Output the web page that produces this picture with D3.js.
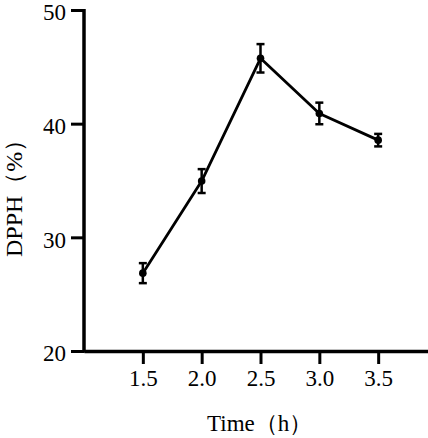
<!DOCTYPE html>
<html>
<head>
<meta charset="utf-8">
<script src="https://cdn.jsdelivr.net/npm/d3@7"></script>
<style>
  body { margin: 0; background: #fff; }
  text { font-family: "Liberation Serif", "Times New Roman", serif; fill: #000; }
</style>
</head>
<body>
<div id="chart-area"></div>
<script>

// SVG Size
var width = 428,
    height = 438;

// Data
var times = [1.5, 2.0, 2.5, 3.0, 3.5];
var dpph = [26.85, 34.95, 45.75, 40.9, 38.55];
var errors = [0.88, 1.05, 1.25, 0.95, 0.55];
var yTicks = [20, 30, 40, 50];

var data = times.map(function(t, i) {
  return { time: t, value: dpph[i], err: errors[i] };
});

var svg = d3.select("#chart-area").append("svg")
    .attr("width", width)
    .attr("height", height);

// Scales
var x = d3.scaleLinear()
    .domain([1, 4])
    .range([84, 437]);

var y = d3.scaleLinear()
    .domain([20, 50])
    .range([351, 10]);

// Axes
var xAxis = d3.axisBottom(x)
    .tickValues(times)
    .tickFormat(d3.format(".1f"))
    .tickSize(13)
    .tickPadding(6)
    .tickSizeOuter(0);

var yAxis = d3.axisLeft(y)
    .tickValues(yTicks)
    .tickSize(13)
    .tickPadding(5)
    .tickSizeOuter(0);

var gx = svg.append("g")
    .attr("class", "x axis")
    .attr("transform", "translate(0," + y(20) + ")")
    .call(xAxis);

var gy = svg.append("g")
    .attr("class", "y axis")
    .attr("transform", "translate(" + x(1) + ",0)")
    .call(yAxis);

svg.selectAll(".axis")
    .attr("font-family", "Liberation Serif")
    .attr("font-size", 23);
svg.selectAll(".axis path.domain")
    .attr("stroke", "#000")
    .attr("stroke-width", 3.5);
svg.selectAll(".axis .tick line")
    .attr("stroke", "#000")
    .attr("stroke-width", 3);
svg.selectAll(".axis .tick text")
    .style("font-size", "23px")
    .style("font-family", "'Liberation Serif', serif");

// nudge y labels down a touch so "50" stays inside the page
gy.selectAll(".tick text").attr("dy", "0.43em");

// Extend y axis domain to cover x axis stroke corner
gy.select("path.domain").attr("d", "M0," + (y(50) - 1) + "V" + (y(20) + 1.75));

// Line
var line = d3.line()
    .x(function(d) { return x(d.time); })
    .y(function(d) { return y(d.value); });

svg.append("path")
    .datum(data)
    .attr("fill", "none")
    .attr("stroke", "#000")
    .attr("stroke-width", 2.8)
    .attr("stroke-linejoin", "round")
    .attr("d", line);

// Error bars
var bars = svg.selectAll(".err")
    .data(data)
    .enter()
    .append("g")
    .attr("class", "err")
    .attr("stroke", "#000")
    .attr("stroke-width", 2.5);

bars.append("line")
    .attr("x1", function(d) { return x(d.time); })
    .attr("x2", function(d) { return x(d.time); })
    .attr("y1", function(d) { return y(d.value + d.err); })
    .attr("y2", function(d) { return y(d.value - d.err); });

bars.append("line")
    .attr("x1", function(d) { return x(d.time) - 4; })
    .attr("x2", function(d) { return x(d.time) + 4; })
    .attr("y1", function(d) { return y(d.value + d.err); })
    .attr("y2", function(d) { return y(d.value + d.err); });

bars.append("line")
    .attr("x1", function(d) { return x(d.time) - 4; })
    .attr("x2", function(d) { return x(d.time) + 4; })
    .attr("y1", function(d) { return y(d.value - d.err); })
    .attr("y2", function(d) { return y(d.value - d.err); });

// Points
svg.selectAll("circle")
    .data(data)
    .enter()
    .append("circle")
    .attr("cx", function(d) { return x(d.time); })
    .attr("cy", function(d) { return y(d.value); })
    .attr("r", 3.8)
    .attr("fill", "#000");

// Axis labels
svg.append("text")
    .attr("x", 207)
    .attr("y", 431)
    .style("font-size", "23px")
    .text("Time（h）");

svg.append("text")
    .attr("transform", "translate(22,257) rotate(-90)")
    .style("font-size", "24px")
    .text("DPPH（%）");

</script>
</body>
</html>
